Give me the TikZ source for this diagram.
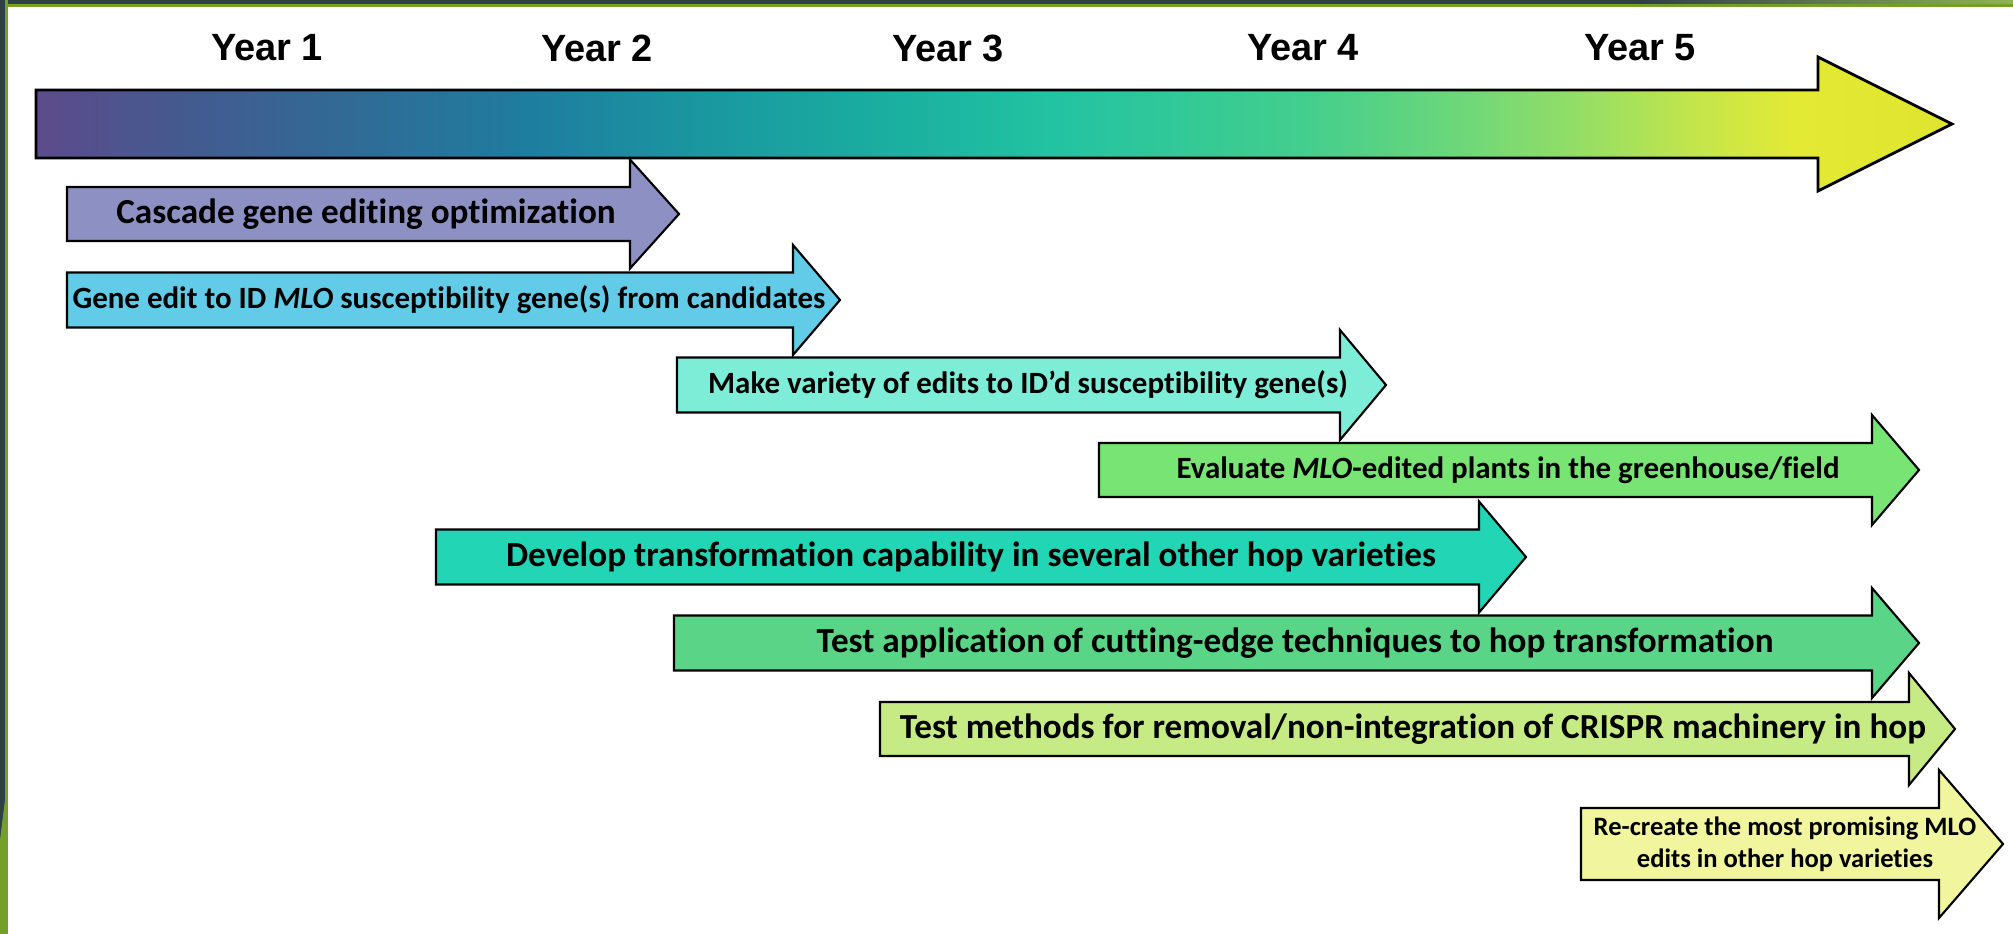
\documentclass[tikz,border=0pt]{standalone}
\usepackage{fontspec}
\setmainfont[Ligatures=NoCommon]{Carlito}
\newfontfamily\yearfont{Liberation Sans}
\definecolor{g0}{HTML}{5D4B8C}
\definecolor{g1}{HTML}{445A8F}
\definecolor{g2}{HTML}{2F6C96}
\definecolor{g3}{HTML}{1E7EA0}
\definecolor{g4}{HTML}{1A98A0}
\definecolor{g5}{HTML}{1AB0A0}
\definecolor{g6}{HTML}{22C3A2}
\definecolor{g7}{HTML}{42CE8E}
\definecolor{g8}{HTML}{6BD77A}
\definecolor{g9}{HTML}{91DD68}
\definecolor{g10}{HTML}{C6E64A}
\definecolor{g11}{HTML}{E4EA33}
\definecolor{g12}{HTML}{DFE52F}
\definecolor{cA}{HTML}{8C90C3}
\definecolor{cB}{HTML}{62CCE8}
\definecolor{cC}{HTML}{7EEDD8}
\definecolor{cD}{HTML}{78E473}
\definecolor{cE}{HTML}{22D5B5}
\definecolor{cF}{HTML}{5AD587}
\definecolor{cG}{HTML}{C7EB84}
\definecolor{cH}{HTML}{F0F59E}
\definecolor{frameDark}{HTML}{2E3F47}
\definecolor{frameGreen}{HTML}{74A02A}
\pgfdeclarehorizontalshading{timeline}{100bp}{color(0bp)=(g0); color(25bp)=(g0); color(28.75bp)=(g1); color(33.5bp)=(g2); color(38bp)=(g3); color(42.5bp)=(g4); color(47.5bp)=(g5); color(51.5bp)=(g6); color(58bp)=(g7); color(62bp)=(g8); color(65bp)=(g9); color(68.5bp)=(g10); color(71bp)=(g11); color(75bp)=(g12); color(100bp)=(g12)}
\tikzset{
  taskline/.style={draw=black, line width=0.6pt, line join=miter},
  bigtext/.style={font=\fontsize{10}{12}\selectfont\bfseries, inner sep=0pt},
  smalltext/.style={font=\fontsize{8.8}{10.5}\selectfont\bfseries, inner sep=0pt},
  tinytext/.style={font=\fontsize{7.55}{9.1}\selectfont\bfseries, inner sep=0pt},
  yearlabel/.style={font=\yearfont\fontsize{10.8}{12}\selectfont\bfseries, inner sep=0pt}
}
% name, colour, left x, centre y, shaft half height, head base x, head half height, tip x
\newcommand\taskarrow[8]{%
  \draw[taskline, fill=#2] ({#3},{#4-#5}) -- ({#6},{#4-#5}) -- ({#6},{#4-#7}) -- ({#8},{#4}) -- ({#6},{#4+#7}) -- ({#6},{#4+#5}) -- ({#3},{#4+#5}) -- cycle;
  \coordinate (#1) at ({#3},{#4});}
\begin{document}
\begin{tikzpicture}[x=0.01cm,y=-0.01cm]
\useasboundingbox (0,0) rectangle (2013,934);
\fill[white] (0,0) rectangle (2013,934);
% frame
\fill[frameDark] (0,0) rectangle (1640,4);
\shade[left color=frameDark, right color=frameGreen!80!white] (1640,0) rectangle (2013,4);
\fill[frameGreen] (0,4) rectangle (2013,7);
\fill[frameDark] (0,0) rectangle (5,934);
\fill[frameGreen] (5,0) rectangle (8,934);
\fill[frameGreen] (0,840) -- (5,800) -- (5,934) -- (0,934) -- cycle;
% year labels
\node[yearlabel] (y1) at (267,48) {Year 1};
\node[yearlabel] (y2) at (597,48) {Year 2};
\node[yearlabel] (y3) at (948,48) {Year 3};
\node[yearlabel] (y4) at (1303,48) {Year 4};
\node[yearlabel] (y5) at (1640,48) {Year 5};
% main timeline arrow
\shadedraw[shading=timeline, draw=black, line width=0.8pt, line join=miter]
  (36,90) -- (1818,90) -- (1818,57) -- (1952,124) -- (1818,191) -- (1818,158) -- (36,158) -- cycle;
\coordinate (main) at (36,124);
% task arrows
\taskarrow{aA}{cA}{67}{214}{27}{630}{54.5}{679}
\node[bigtext] (tA) at (366,214) {Cascade gene editing optimization};
\taskarrow{aB}{cB}{67}{300}{27.5}{793}{55}{840}
\node[smalltext] (tB) at (449,300) {Gene edit to ID \textit{MLO} susceptibility gene(s) from candidates};
\taskarrow{aC}{cC}{677}{385}{27.5}{1340}{55}{1386}
\node[smalltext] (tC) at (1028,385) {Make variety of edits to ID’d susceptibility gene(s)};
\taskarrow{aD}{cD}{1099}{470}{27}{1872}{55}{1919}
\node[smalltext] (tD) at (1508,470) {Evaluate \textit{MLO}-edited plants in the greenhouse/field};
\taskarrow{aE}{cE}{436}{557}{27.5}{1479}{55.5}{1526}
\node[bigtext] (tE) at (971,557) {Develop transformation capability in several other hop varieties};
\taskarrow{aF}{cF}{674}{643}{27.5}{1872}{55}{1919}
\node[bigtext] (tF) at (1295,643) {Test application of cutting-edge techniques to hop transformation};
\taskarrow{aG}{cG}{880}{729}{27}{1909}{56}{1955}
\node[bigtext] (tG) at (1413,729) {Test methods for removal/non-integration of CRISPR machinery in hop};
\taskarrow{aH}{cH}{1581}{844}{36}{1939}{74}{2003}
\node[tinytext, align=center] (tH) at (1785,844) {Re-create the most promising MLO\\edits in other hop varieties};
\end{tikzpicture}
\end{document}
